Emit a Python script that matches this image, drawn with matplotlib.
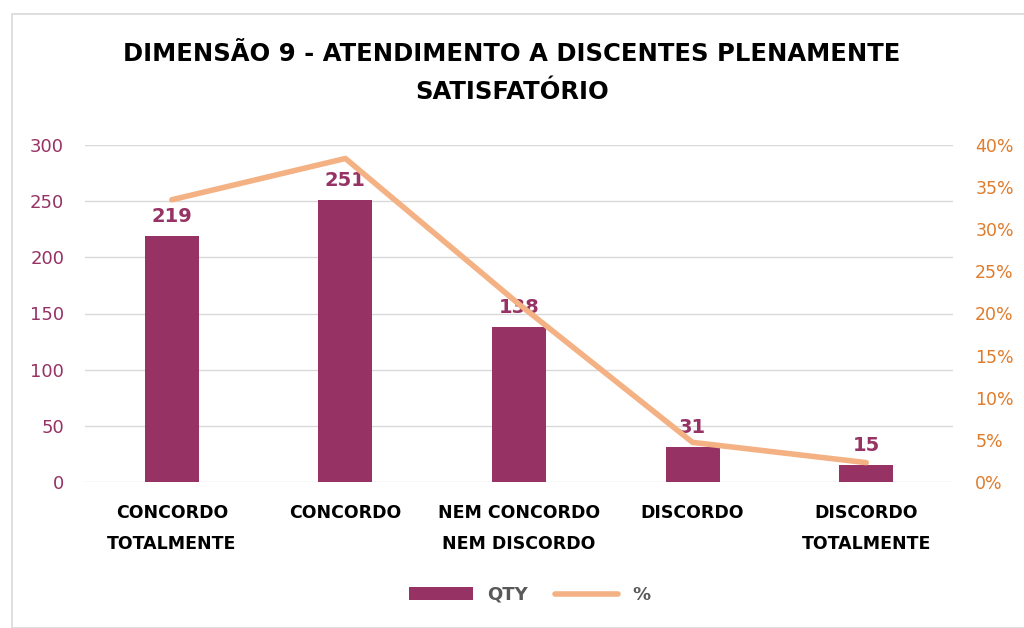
import numpy as np
import matplotlib.pyplot as plt
from matplotlib.patches import Rectangle
from matplotlib.ticker import FuncFormatter

plt.rcParams['font.family'] = ['DejaVu Sans']

categorias = ["CONCORDO\nTOTALMENTE", "CONCORDO", "NEM CONCORDO\nNEM DISCORDO", "DISCORDO", "DISCORDO\nTOTALMENTE"]
qty = [219, 251, 138, 31, 15]
pct = [33.5, 38.4, 21.1, 4.7, 2.3]

roxo = "#963264"
laranja = "#F4B183"

fig = plt.figure(figsize=(10.24, 6.28), dpi=100)
fig.patches.append(Rectangle((12/1024, 0), 1.2, (628-14)/628, transform=fig.transFigure,
                             fill=False, edgecolor="#d9d9d9", lw=1.2))

ax = fig.add_axes([85/1024, 1-482/628, (953-85)/1024, (482-145)/628])
x = np.arange(len(qty))
ax.bar(x, qty, width=0.31, color=roxo, zorder=2, label="QTY")
ax.set_ylim(0, 300)
ax.set_yticks(range(0, 301, 50))
ax.set_xlim(-0.5, 4.5)
ax.grid(axis="y", color="#d9d9d9", lw=1, zorder=0)
for s in ax.spines.values():
    s.set_visible(False)
ax.tick_params(axis="y", length=0, labelsize=13, labelcolor=roxo, pad=15)
ax.tick_params(axis="x", length=0, labelsize=12.5, pad=16)
ax.set_xticks(x)
ax.set_xticklabels(categorias, fontweight="bold", linespacing=1.9)
for xi, v in zip(x, qty):
    ax.text(xi, v + 9, str(v), ha="center", va="bottom", fontsize=14, color=roxo,
            fontweight="bold")

ax2 = ax.twinx()
ax2.plot(x, pct, color=laranja, lw=4, zorder=3, label="%", solid_capstyle="round")
ax2.set_ylim(0, 40)
ax2.set_yticks(range(0, 41, 5))
ax2.yaxis.set_major_formatter(FuncFormatter(lambda v, p: f"{v:.0f}%"))
for s in ax2.spines.values():
    s.set_visible(False)
ax2.tick_params(axis="y", length=0, labelsize=12.5, labelcolor="#E07B2A", pad=16)

h1, l1 = ax.get_legend_handles_labels()
h2, l2 = ax2.get_legend_handles_labels()
leg = fig.legend(h1 + h2, l1 + l2, loc="center", bbox_to_anchor=(530/1024, 1-595/628), ncol=2,
                 frameon=False, fontsize=13, handlelength=3.5, columnspacing=1.5,
                 labelcolor="#595959")
for t in leg.get_texts():
    t.set_fontweight("bold")

fig.suptitle("DIMENSÃO 9 - ATENDIMENTO A DISCENTES PLENAMENTE\nSATISFATÓRIO",
             y=1-42/628, va="top", fontsize=17.5, fontweight="bold", linespacing=1.75)

fig.savefig("out.png", dpi=100)
